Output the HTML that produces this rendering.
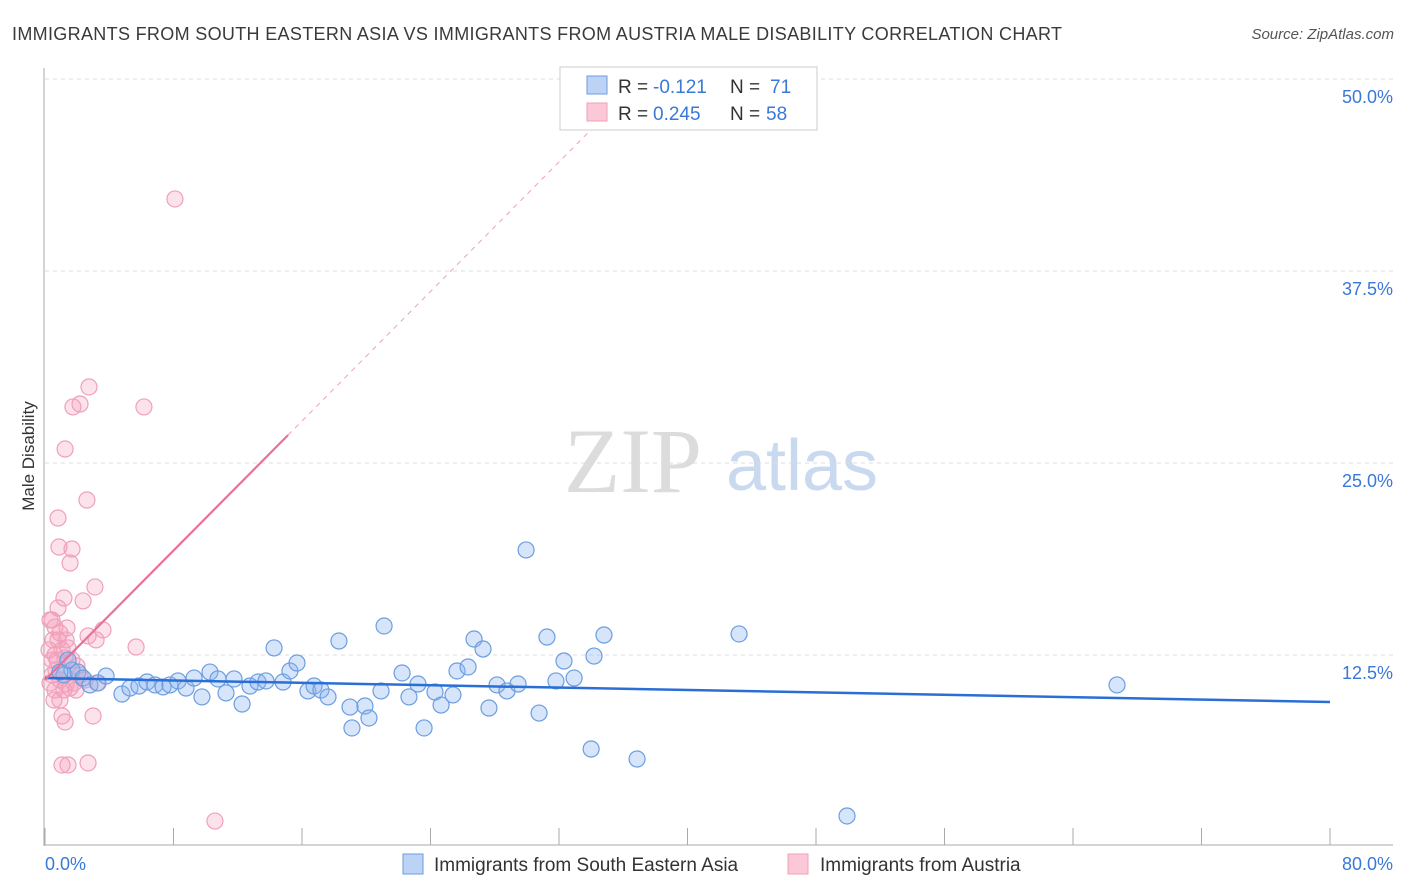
<!DOCTYPE html>
<html><head><meta charset="utf-8"><style>
body{margin:0;background:#fff;font-family:"Liberation Sans",sans-serif;}
svg{display:block}
</style></head><body>
<svg id="c" width="1406" height="892" xmlns="http://www.w3.org/2000/svg">
<text x="12" y="40" font-size="18" fill="#3a3a3a" textLength="1050">IMMIGRANTS FROM SOUTH EASTERN ASIA VS IMMIGRANTS FROM AUSTRIA MALE DISABILITY CORRELATION CHART</text>
<text x="1394" y="39" font-size="15" fill="#555" text-anchor="end" font-style="italic">Source: ZipAtlas.com</text>
<text x="633" y="492" font-size="92" fill="#dcdcdc" font-family="Liberation Serif,serif" text-anchor="middle">ZIP</text>
<text x="802" y="490" font-size="72" fill="#c9d9ef" text-anchor="middle">atlas</text>
<text transform="translate(34,456) rotate(-90)" font-size="17" fill="#333" text-anchor="middle">Male Disability</text>
<g id="grid"></g><g id="marks"></g>
<g>
<rect x="560" y="67" width="257" height="63" fill="#fff" stroke="#ccc"/>
<rect x="587" y="76" width="20" height="18" fill="#bcd3f5" stroke="#6b9de0"/>
<rect x="587" y="103" width="20" height="18" fill="#fbc8d8" stroke="#f0a0b8"/>
<text x="618" y="93" font-size="19" fill="#333">R =</text>
<text x="653" y="93" font-size="19" fill="#3a78d8">-0.121</text>
<text x="730" y="93" font-size="19" fill="#333">N =</text>
<text x="770" y="93" font-size="19" fill="#3a78d8">71</text>
<text x="618" y="120" font-size="19" fill="#333">R =</text>
<text x="653" y="120" font-size="19" fill="#3a78d8">0.245</text>
<text x="730" y="120" font-size="19" fill="#333">N =</text>
<text x="766" y="120" font-size="19" fill="#3a78d8">58</text>
</g>
<g>
<rect x="403" y="854" width="20" height="20" fill="#bcd3f5" stroke="#6b9de0"/>
<text x="434" y="871" font-size="19" fill="#333">Immigrants from South Eastern Asia</text>
<rect x="788" y="854" width="20" height="20" fill="#fbc8d8" stroke="#f0a0b8"/>
<text x="820" y="871" font-size="19" fill="#333">Immigrants from Austria</text>
</g>
</svg>
<script>
const yTicks=[12.5,25,37.5,50];
const yTickLabels=["12.5%","25.0%","37.5%","50.0%"];
const xTickLabels=["0.0%","80.0%"];
const blueX=[1.18,1.68,2.05,2.37,2.80,3.30,3.80,4.79,5.29,5.85,6.35,6.85,7.35,7.78,8.28,8.78,9.28,9.77,10.27,10.77,11.27,11.77,12.27,12.76,13.26,13.76,14.26,14.82,15.25,15.69,16.37,16.75,17.18,17.62,18.30,18.99,19.11,19.92,20.17,20.92,21.11,22.23,22.66,23.22,23.60,24.28,24.66,25.40,25.65,26.34,26.71,27.27,27.64,28.14,28.76,29.45,29.95,30.76,31.25,31.81,32.31,32.94,34.00,34.18,34.80,36.86,43.21,49.93,66.74,1.43,0.93];
const blueY=[11.20,11.52,11.39,11.00,10.55,10.68,11.13,9.96,10.35,10.48,10.74,10.55,10.42,10.55,10.81,10.35,11.00,9.77,11.39,10.94,10.03,10.94,9.31,10.48,10.74,10.81,12.96,10.74,11.46,11.98,10.16,10.48,10.22,9.77,13.41,9.11,7.75,9.18,8.40,10.16,14.39,11.33,9.77,10.61,7.75,10.09,9.24,9.90,11.46,11.72,13.54,12.89,9.05,10.55,10.16,10.61,19.34,8.72,13.67,10.81,12.11,11.00,6.38,12.43,13.80,5.73,13.87,2.02,10.55,12.17,11.39];
const pinkX=[8.09,2.74,1.74,2.18,6.16,1.25,2.61,0.81,0.87,1.68,1.56,3.11,1.18,2.37,0.44,0.62,3.61,2.68,3.18,5.67,0.93,1.43,0.62,1.25,1.99,0.68,0.93,1.56,1.18,0.44,0.31,1.06,1.25,2.99,1.06,1.43,2.68,10.58,0.81,0.44,1.31,1.81,3.24,2.18,0.62,1.06,1.37,0.81,0.25,0.31,0.56,0.93,1.68,2.49,0.75,1.31,0.50,1.93];
const pinkY=[42.19,29.95,28.65,28.84,28.65,25.91,22.59,21.42,19.53,19.40,18.49,16.93,16.21,16.02,14.78,14.32,14.13,13.74,13.48,13.02,13.93,12.96,12.50,12.30,11.78,11.52,10.87,10.35,10.22,11.20,10.68,8.53,8.14,8.53,5.34,5.34,5.47,1.69,13.48,12.17,10.61,10.68,10.68,11.20,10.22,12.83,14.26,15.56,12.83,14.78,9.57,9.57,12.17,10.87,12.17,13.48,13.48,10.22];
const blueTrend=[11.0,9.44];
const pinkTrend=[10.87,1.054];
const NS="http://www.w3.org/2000/svg";
const X=v=>45+v/80*1285, Y=v=>847-v*15.36;
function mk(t,a,p){const e=document.createElementNS(NS,t);for(const k in a)e.setAttribute(k,a[k]);p.appendChild(e);return e;}
const g=document.getElementById('grid'),m=document.getElementById('marks');
yTicks.forEach((t,i)=>{
 const l=mk('line',{x1:45,x2:1393,y1:Y(t),y2:Y(t),stroke:'#ddd','stroke-dasharray':'4,4'},g);
 
 
 const tx=mk('text',{x:1393,y:Y(t)+24,'font-size':18,fill:'#3a78d8','text-anchor':'end'},g);tx.textContent=yTickLabels[i];
 
 
});
mk('line',{x1:44,x2:44,y1:68,y2:846,stroke:'#aaa'},g);
mk('line',{x1:44,x2:1393,y1:845,y2:845,stroke:'#aaa'},g);
for(let i=0;i<=10;i++){const t=mk('line',{x1:X(i*8),x2:X(i*8),y1:828,y2:845,stroke:'#aaa'},g);
 
 }
[[0,'start',45],[80,'end',1393]].forEach((d,i)=>{const t=mk('text',{x:d[2],y:870,'font-size':18,fill:'#3a78d8','text-anchor':d[1]},g);t.textContent=xTickLabels[i];
 
 });
pinkX.forEach((x,i)=>{const c=mk('circle',{cx:X(x),cy:Y(pinkY[i]),r:8,fill:'rgba(244,160,188,0.3)',stroke:'#f0a0b8','stroke-width':1.2},m);
 
 });
blueX.forEach((x,i)=>{const c=mk('circle',{cx:X(x),cy:Y(blueY[i]),r:8,fill:'rgba(140,180,240,0.35)',stroke:'#6b9de0','stroke-width':1.2},m);
 
 });
const bl=mk('line',{x1:X(0),y1:Y(blueTrend[0]),x2:X(80),y2:Y(blueTrend[1]),stroke:'#2a6fd6','stroke-width':2.5},m);


const pe=15.13;
const pl=mk('line',{x1:X(0),y1:Y(pinkTrend[0]),x2:X(pe),y2:Y(pinkTrend[0]+pinkTrend[1]*pe),stroke:'#e8709a','stroke-width':2.2},m);


const pd=mk('line',{x1:X(pe),y1:Y(pinkTrend[0]+pinkTrend[1]*pe),x2:X(37),y2:Y(pinkTrend[0]+pinkTrend[1]*37),stroke:'#f0a0b8','stroke-width':1,'stroke-dasharray':'5,5'},m);


</script>
</body></html>
